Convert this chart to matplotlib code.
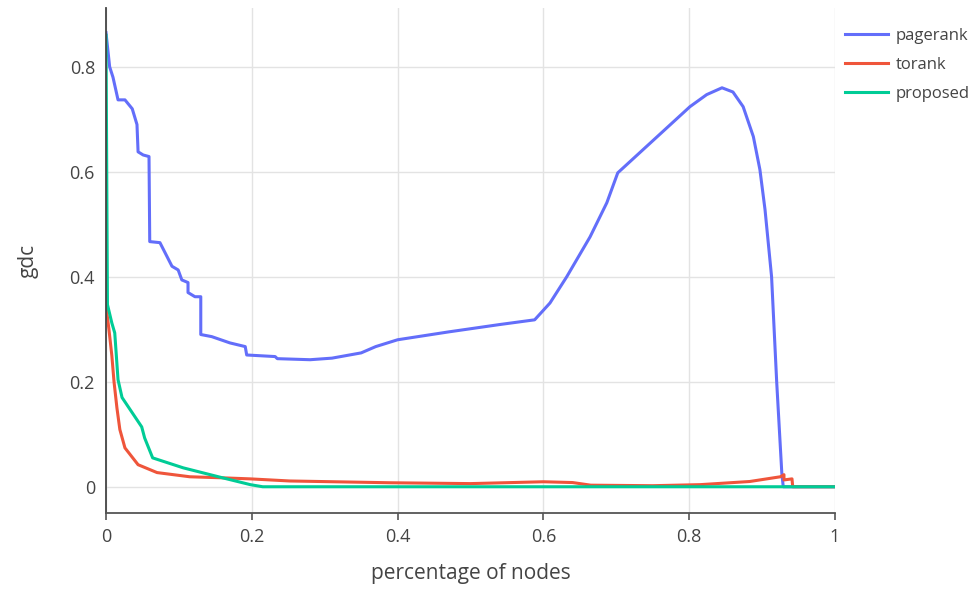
import numpy as np
import matplotlib
matplotlib.use("Agg")
import matplotlib.pyplot as plt

plt.rcParams["font.family"] = ["Open Sans", "DejaVu Sans"]

# pagerank curve
pagerank_x = [0.0, 0.005, 0.0096, 0.0165, 0.026, 0.036, 0.0425, 0.044, 0.051, 0.059,
              0.060, 0.074, 0.0905, 0.099, 0.104, 0.1125, 0.1125, 0.122, 0.130, 0.130,
              0.145, 0.170, 0.191, 0.193, 0.232, 0.235, 0.28, 0.31, 0.35, 0.37,
              0.40, 0.47, 0.54, 0.588, 0.609, 0.632, 0.664, 0.687, 0.702, 0.801,
              0.824, 0.845, 0.860, 0.874, 0.888, 0.897, 0.904, 0.913, 0.920, 0.927,
              0.929, 1.0]
pagerank_y = [0.865, 0.80, 0.78, 0.737, 0.737, 0.72, 0.69, 0.638, 0.632, 0.629,
              0.467, 0.465, 0.42, 0.413, 0.394, 0.389, 0.37, 0.362, 0.362, 0.29,
              0.286, 0.274, 0.267, 0.251, 0.248, 0.244, 0.242, 0.245, 0.255, 0.267,
              0.28, 0.295, 0.309, 0.318, 0.350, 0.40, 0.476, 0.541, 0.598, 0.724,
              0.747, 0.760, 0.752, 0.724, 0.667, 0.604, 0.528, 0.40, 0.20, 0.027,
              0.0, 0.0]

# torank curve
torank_x = [0.0, 0.004, 0.008, 0.011, 0.015, 0.019, 0.026, 0.044, 0.07, 0.115,
            0.16, 0.198, 0.252, 0.39, 0.5, 0.6, 0.64, 0.665, 0.75, 0.815,
            0.883, 0.925, 0.93, 0.93, 0.941, 0.942, 1.0]
torank_y = [0.345, 0.30, 0.25, 0.20, 0.15, 0.109, 0.074, 0.042, 0.027, 0.019,
            0.017, 0.015, 0.011, 0.0076, 0.006, 0.0095, 0.008, 0.003, 0.002, 0.004,
            0.01, 0.019, 0.023, 0.013, 0.015, 0.0, 0.0]

# proposed curve
proposed_x = [0.0, 0.002, 0.008, 0.012, 0.0165, 0.022, 0.049, 0.053, 0.064, 0.106,
              0.16, 0.198, 0.215, 1.0]
proposed_y = [0.86, 0.347, 0.312, 0.293, 0.204, 0.17, 0.114, 0.093, 0.055, 0.036,
              0.017, 0.004, 0.0, 0.0]

series = [
    ("pagerank", pagerank_x, pagerank_y, "#636efa"),
    ("torank", torank_x, torank_y, "#ef553b"),
    ("proposed", proposed_x, proposed_y, "#00cc96"),
]

fig = plt.figure(figsize=(9.74, 6.02), dpi=100)
ax = fig.add_axes([106 / 974, 1 - 513 / 602, (835 - 106) / 974, (513 - 8) / 602])

for name, xs, ys, color in series:
    ax.plot(xs, ys, color=color, lw=2.2, label=name, solid_joinstyle="round")

ax.set_xlim(0, 1)
ax.set_ylim(-0.05, 0.912)
ax.set_xticks([0, 0.2, 0.4, 0.6, 0.8, 1])
ax.set_xticklabels(["0", "0.2", "0.4", "0.6", "0.8", "1"])
ax.set_yticks([0, 0.2, 0.4, 0.6, 0.8])
ax.set_yticklabels(["0", "0.2", "0.4", "0.6", "0.8"])

ax.grid(True, color="#e3e3e3", lw=1.0)
ax.set_axisbelow(True)
for s in ["top", "right"]:
    ax.spines[s].set_visible(False)
ax.spines["left"].set_color("#444444")
ax.spines["left"].set_linewidth(1.3)
ax.spines["bottom"].set_color("#555555")
ax.spines["bottom"].set_linewidth(1.3)

ax.tick_params(axis="x", direction="out", length=5, width=1.2, color="#555555",
               labelsize=13, labelcolor="#444444", pad=6)
ax.tick_params(axis="y", length=0, labelsize=13, labelcolor="#444444", pad=8)

ax.set_xlabel("percentage of nodes", fontsize=15, color="#444444", labelpad=12)
ax.set_ylabel("gdc", fontsize=15, color="#444444", labelpad=22)

leg = ax.legend(loc="upper left", bbox_to_anchor=(838 / 974, 1 - 21 / 602),
                bbox_transform=fig.transFigure, frameon=False, fontsize=12,
                handlelength=2.6, handletextpad=0.45, labelspacing=0.8,
                borderaxespad=0)
for t in leg.get_texts():
    t.set_color("#444444")

fig.savefig("out.png", dpi=100)
